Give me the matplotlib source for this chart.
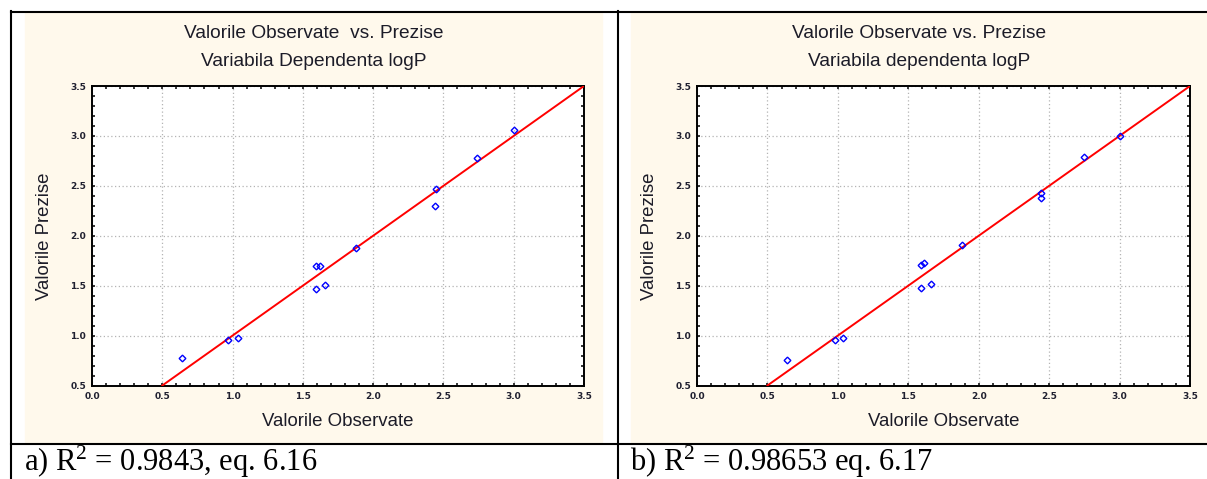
import matplotlib
matplotlib.use('Agg')
import matplotlib.pyplot as plt
from matplotlib.patches import Rectangle
from matplotlib.lines import Line2D
from matplotlib.ticker import MultipleLocator

plt.rcParams['font.family'] = ['Liberation Sans', 'DejaVu Sans']
plt.rcParams['mathtext.default'] = 'regular'

# observed vs predicted logP, panel a (eq. 6.16)
obs_a  = [0.64, 0.97, 1.04, 1.59, 1.62, 1.59, 1.66, 1.88, 2.44, 2.45, 2.74, 3.00]
pred_a = [0.78, 0.96, 0.98, 1.70, 1.70, 1.47, 1.51, 1.88, 2.30, 2.47, 2.78, 3.06]

# panel b (eq. 6.17)
obs_b  = [0.64, 0.98, 1.04, 1.59, 1.61, 1.59, 1.66, 1.88, 2.44, 2.44, 2.75, 3.00]
pred_b = [0.76, 0.96, 0.98, 1.71, 1.73, 1.48, 1.52, 1.91, 2.43, 2.38, 2.79, 3.00]

fit_x = [0.5, 3.5]
fit_y = [0.5, 3.5]

titles_a = ["Valorile Observate  vs. Prezise", "Variabila Dependenta logP"]
titles_b = ["Valorile Observate vs. Prezise", "Variabila dependenta logP"]
caption_a = r"a) R$^2$ = 0.9843, eq. 6.16"
caption_b = r"b) R$^2$ = 0.98653 eq. 6.17"

W, H = 1207, 479
CREAM = "#fff9ec"
TXT = "#1c1c28"


def frac(l, t, r, b):
    return [l / W, 1 - b / H, (r - l) / W, (b - t) / H]


def hline(x0, x1, y):
    return Line2D([x0 / W, x1 / W], [1 - y / H, 1 - y / H],
                  color="black", lw=1.5, transform=fig.transFigure)


def vline(x, y0, y1):
    return Line2D([x / W, x / W], [1 - y0 / H, 1 - y1 / H],
                  color="black", lw=1.5, transform=fig.transFigure)


fig = plt.figure(figsize=(W / 100, H / 100), dpi=100)

# table frame
fig.add_artist(hline(10.5, W, 11.5))
fig.add_artist(hline(10.5, W, 444))
fig.add_artist(vline(11.3, 10.5, H))
fig.add_artist(vline(617.8, 10.5, H))


def panel(cl, cr, al, ar, obs, pred, titles, caption):
    bg = frac(cl, 12.5, cr, 442)
    fig.add_artist(Rectangle((bg[0], bg[1]), bg[2], bg[3],
                             transform=fig.transFigure, color=CREAM,
                             zorder=-1))
    cx = (cl + cr) / 2
    fig.text(cx / W, 1 - 33 / H, titles[0], ha="center", va="center",
             fontsize=13.8, color=TXT)
    fig.text(cx / W, 1 - 62 / H, titles[1], ha="center", va="center",
             fontsize=13.8, color=TXT)

    ax = fig.add_axes(frac(al, 86, ar, 385.5))
    ax.set_facecolor("white")
    ax.plot(fit_x, fit_y, color="#ff0000", lw=1.4, zorder=3)
    ax.plot(obs, pred, ls="none", marker="D", ms=3.4, mfc="none",
            mec="#0000ff", mew=1.0, zorder=4)
    ax.set_xlim(0, 3.5)
    ax.set_ylim(0.5, 3.5)
    ax.xaxis.set_major_locator(MultipleLocator(0.5))
    ax.yaxis.set_major_locator(MultipleLocator(0.5))
    ax.xaxis.set_minor_locator(MultipleLocator(0.1))
    ax.yaxis.set_minor_locator(MultipleLocator(0.1))
    ax.grid(True, which="major", color="#b4b4b4", lw=0.9,
            linestyle=(0, (1, 2)))
    ax.set_axisbelow(True)
    for s in ax.spines.values():
        s.set_linewidth(1.4)
        s.set_color("black")
    ax.tick_params(which="both", direction="in", top=True, right=True,
                   length=2.5, width=1.1, color="black")
    ax.tick_params(axis="x", pad=5)
    ax.tick_params(axis="y", pad=4.3)
    for lab in ax.get_xticklabels() + ax.get_yticklabels():
        lab.set_fontsize(6.5)
        lab.set_fontweight("bold")
        lab.set_color("#202030")
        lab.set_family("DejaVu Sans")

    ax.set_xlabel("Valorile Observate", fontsize=13.4, color=TXT,
                  va="center")
    ax.xaxis.set_label_coords(0.5, -0.121)
    ax.set_ylabel("Valorile Prezise", fontsize=13.4, color=TXT,
                  va="center")
    ax.yaxis.set_label_coords(-0.096, 0.5)

    fig.text((cl - 1) / W, 1 - 471.5 / H, caption, ha="left",
             va="baseline", fontsize=22, family="Liberation Serif",
             color="black")
    return ax


panel(25, 602, 92, 584, obs_a, pred_a, titles_a, caption_a)
panel(631, W, 697, 1190, obs_b, pred_b, titles_b, caption_b)

fig.savefig("out.png", dpi=100)
plt.close(fig)
